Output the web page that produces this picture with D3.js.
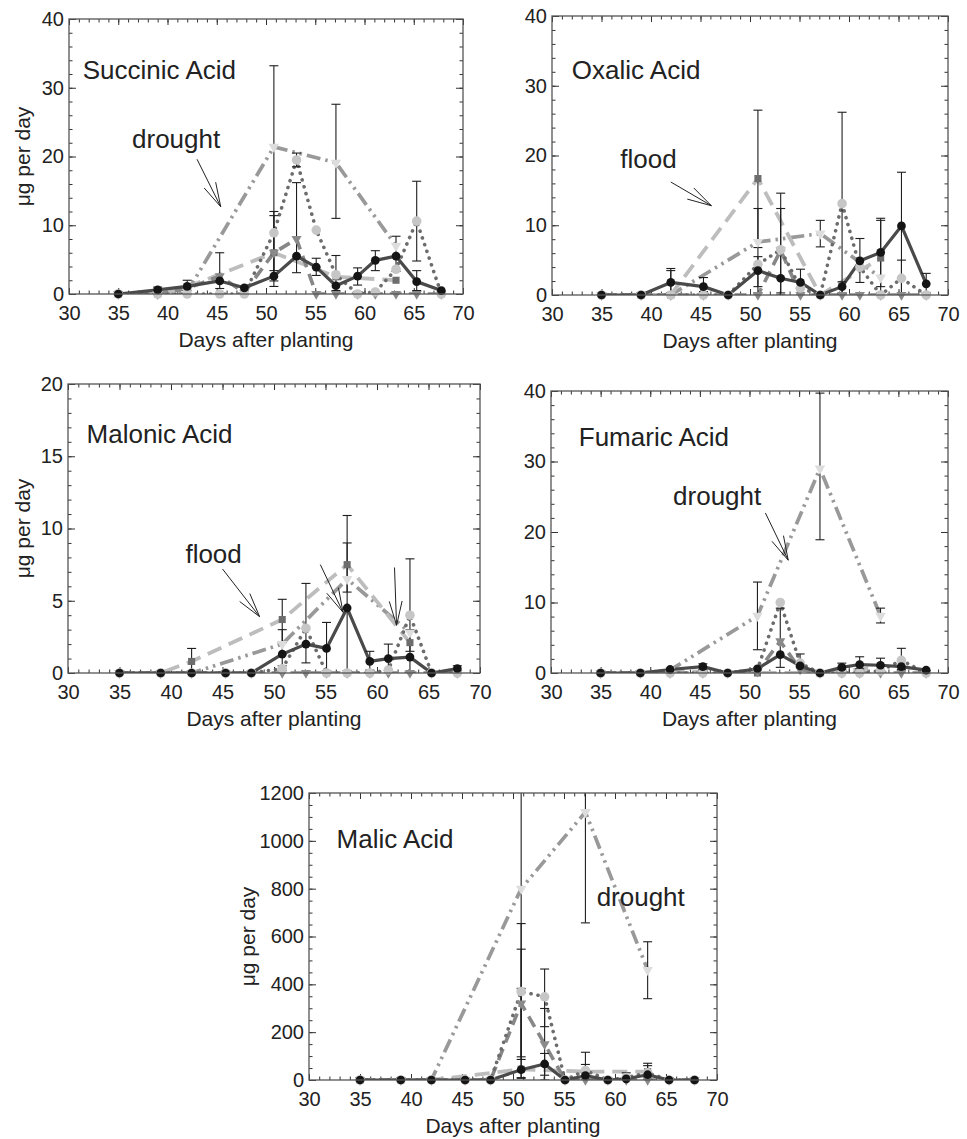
<!DOCTYPE html>
<html>
<head>
<meta charset="utf-8">
<title>Organic acid exudation</title>
<style>
  body { margin: 0; background: #fff; }
  svg { display: block; font-family: "Liberation Sans", Arial, sans-serif; }
</style>
</head>
<body>
<script src="https://cdn.jsdelivr.net/npm/d3@7"></script>
<script>
// sampling days
const days = [35, 39, 42, 45.3, 47.8, 50.8, 53.1, 55.1, 57.1, 59.3, 61.1, 63.2, 65.3, 67.8];
const treatDays = [35, 39, 42, 50.8, 57.1, 63.2];

// Succinic acid
const succinicSolid = [0, 0.6, 1.1, 1.9, 0.9, 2.6, 5.5, 3.9, 1.2, 2.6, 4.9, 5.5, 1.8, 0.5];
const succinicDotted = [0, 0, 0, 0, 0, 8.9, 19.5, 9.3, 2.8, 0, 0.3, 3.6, 10.6, 0];
const succinicMedium = [0, 0, 0.8, 2.6, 0.2, 6.0, 8.0, 0, 0, 0, 0, 0, 0, 0];
const succinicFlood = [0, 0, 1.0, 6.0, 2.5, 2.0];
const succinicDrought = [0, 0, 0.3, 21.4, 19.1, 7.0];
const succinicErr = [[39, 0.3, 1.0], [42, 0.5, 2.0], [45.3, 0.8, 6.0], [50.8, 1.1, 33.2], [50.8, 1.9, 12.0],
  [50.8, 3.4, 11.4], [53.1, 18.5, 20.5], [53.1, 3.1, 16.2], [55.1, 2.7, 5.2], [57.1, 11.0, 27.6],
  [57.1, 0.5, 5.6], [59.3, 1.3, 3.8], [61.1, 3.4, 6.3], [63.2, 3.3, 8.4], [65.3, 4.8, 16.4], [65.3, 0.5, 3.4]];

// Oxalic acid
const oxalicSolid = [0, 0, 1.8, 1.2, 0, 3.5, 2.4, 1.8, 0, 1.2, 4.9, 6.1, 9.9, 1.6];
const oxalicDotted = [0, 0, 0, 0, 0, 4.4, 6.5, 1.0, 0, 13.1, 4.0, 0, 2.4, 0];
const oxalicMedium = [0, 0, 0, 0, 0, 0, 6.4, 0, 0, 0, 0, 0, 0, 0];
const oxalicFlood = [0, 0, 0, 16.7, 0, 5.3];
const oxalicDrought = [0, 0, 0, 7.6, 8.8, 2.5];
const oxalicErr = [[42, 0, 3.8], [42, 0.2, 3.5], [45.3, 0.5, 2.5], [50.8, 6.8, 26.5], [50.8, 1.2, 12.4],
  [50.8, 0.3, 5.5], [53.1, 0, 14.6], [53.1, 0.3, 12.4], [55.1, 0, 3.7], [57.1, 6.9, 10.7],
  [59.3, 0.1, 26.2], [59.3, 0.2, 1.9], [61.1, 1.8, 8.1], [63.2, 1.2, 11.0], [63.2, 0.2, 10.7],
  [65.3, 0, 17.6], [65.3, 0, 5.0], [67.8, 0.2, 3.1]];

// Malonic acid
const malonicSolid = [0, 0, 0, 0, 0, 1.3, 2.0, 1.7, 4.5, 0.8, 1.0, 1.1, 0, 0.3];
const malonicDotted = [0, 0, 0, 0, 0, 0.3, 3.1, 0, 0, 0, 0.2, 4.0, 0, 0];
const malonicMedium = [0, 0, 0, 0, 0, 0, 0, 0, 0, 0, 0, 0, 0, 0];
const malonicFlood = [0, 0, 0.8, 3.7, 7.5, 2.1];
const malonicDrought = [0, 0, 0, 2.0, 6.5, 2.8];
const malonicErr = [[42, 0.1, 1.7], [50.8, 2.1, 5.1], [50.8, 0.5, 3.0], [53.1, 0.7, 6.2], [55.1, 0, 3.5],
  [57.1, 0, 10.9], [57.1, 5.6, 9.0], [59.3, 0.2, 1.5], [61.1, 0, 2.0], [63.2, 0, 7.9],
  [63.2, 1.5, 3.0], [67.8, 0.1, 0.5]];

// Fumaric acid
const fumaricSolid = [0, 0, 0.5, 0.9, 0, 0.6, 2.6, 1.0, 0, 0.8, 1.2, 1.1, 0.9, 0.4];
const fumaricDotted = [0, 0, 0, 0, 0, 0.5, 10.0, 1.4, 0, 0, 0, 0.3, 1.8, 0];
const fumaricMedium = [0, 0, 0, 0, 0, 0.2, 4.5, 0.5, 0, 0, 0, 0, 0, 0];
const fumaricFlood = [0, 0, 0.3, 0, 0, 0.8];
const fumaricDrought = [0, 0, 0.4, 8.1, 29.0, 8.1];
const fumaricErr = [[45.3, 0.5, 1.3], [50.8, 3.3, 12.9], [53.1, 0.8, 9.2], [55.1, 1.2, 2.7],
  [57.1, 18.9, 39.7], [59.3, 0.5, 1.4], [61.1, 0.6, 2.3], [63.2, 7.1, 9.2], [63.2, 0.5, 2.1],
  [65.3, 0.5, 3.5]];

// Malic acid
const malicSolid = [0, 0, 0, 0, 0, 43, 67, 0, 18, 0, 5, 22, 0, 0];
const malicDotted = [0, 0, 0, 0, 0, 370, 348, 0, 40, 0, 10, 30, 0, 0];
const malicMedium = [0, 0, 0, 0, 0, 320, 150, 0, 0, 0, 0, 0, 0, 0];
const malicFlood = [0, 0, 0, 45, 35, 35];
const malicDrought = [0, 0, 0, 800, 1120, 460];
const malicErr = [[50.8, 7, 1600], [50.8, 86, 654], [50.8, 97, 547], [50.8, 10, 383], [53.1, 223, 464],
  [53.1, 0, 299], [53.1, 20, 111], [57.1, 657, 1583], [57.1, 0, 116], [57.1, 30, 65], [61.1, 0, 30],
  [63.2, 340, 578], [63.2, 0, 70], [63.2, 10, 60]];

// annotations, in data units: [text, day, value]
const succinicNotes = [["Succinic Acid", 31.4, 31.3], ["drought", 36.4, 21.2]];
const oxalicNotes = [["Oxalic Acid", 32.0, 31.0], ["flood", 36.9, 18.2]];
const malonicNotes = [["Malonic Acid", 31.8, 15.9], ["flood", 41.4, 7.6]];
const fumaricNotes = [["Fumaric Acid", 32.8, 32.2], ["drought", 42.3, 23.8]];
const malicNotes = [["Malic Acid", 32.7, 970], ["drought", 58.2, 727]];

// arrows: [tail day, tail value, tip day, tip value]
const succinicArrows = [[43.0, 19.6, 45.4, 12.7]];
const oxalicArrows = [[42.0, 16.2, 46.1, 12.8]];
const malonicArrows = [[45.0, 7.2, 48.6, 3.9], [54.5, 7.5, 56.7, 4.2], [61.7, 7.3, 61.9, 3.3]];
const fumaricArrows = [[51.6, 22.7, 53.9, 16.0]];
const malicArrows = [];

const xTicks = d3.range(30, 71, 5);

const panels = [
  { id: "succ", left: 69, right: 463, top: 19, bottom: 294, yMax: 40, major: 10, minor: 2, yTitle: 39,
    solid: succinicSolid, dotted: succinicDotted, medium: succinicMedium, flood: succinicFlood,
    drought: succinicDrought, err: succinicErr, notes: succinicNotes, arrows: succinicArrows },
  { id: "oxal", left: 552, right: 948, top: 16, bottom: 295, yMax: 40, major: 10, minor: 2, yTitle: null,
    solid: oxalicSolid, dotted: oxalicDotted, medium: oxalicMedium, flood: oxalicFlood,
    drought: oxalicDrought, err: oxalicErr, notes: oxalicNotes, arrows: oxalicArrows },
  { id: "malo", left: 68, right: 480, top: 384, bottom: 673, yMax: 20, major: 5, minor: 1, yTitle: 38,
    solid: malonicSolid, dotted: malonicDotted, medium: malonicMedium, flood: malonicFlood,
    drought: malonicDrought, err: malonicErr, notes: malonicNotes, arrows: malonicArrows },
  { id: "fuma", left: 551, right: 948, top: 391, bottom: 673, yMax: 40, major: 10, minor: 2, yTitle: null,
    solid: fumaricSolid, dotted: fumaricDotted, medium: fumaricMedium, flood: fumaricFlood,
    drought: fumaricDrought, err: fumaricErr, notes: fumaricNotes, arrows: fumaricArrows },
  { id: "mali", left: 309, right: 717, top: 793, bottom: 1080, yMax: 1200, major: 200, minor: 50, yTitle: 54,
    solid: malicSolid, dotted: malicDotted, medium: malicMedium, flood: malicFlood,
    drought: malicDrought, err: malicErr, notes: malicNotes, arrows: malicArrows }
];

const styles = [
  { key: "drought", xs: treatDays, stroke: "#999999", width: 3.7, dash: "14 5 2.5 5 2.5 5", cap: "butt",
    symbol: d3.symbolTriangle, flip: true, size: 48, fill: "#dddddd" },
  { key: "flood", xs: treatDays, stroke: "#bdbdbd", width: 3.8, dash: "15 8", cap: "butt",
    symbol: d3.symbolSquare, flip: false, size: 50, fill: "#6d6d6d" },
  { key: "medium", xs: days, stroke: "#878787", width: 3.6, dash: "12 7", cap: "butt",
    symbol: d3.symbolTriangle, flip: true, size: 44, fill: "#8a8a8a" },
  { key: "dotted", xs: days, stroke: "#6c6c6c", width: 3.6, dash: "0.1 7", cap: "round",
    symbol: d3.symbolCircle, flip: false, size: 72, fill: "#c6c6c6" },
  { key: "solid", xs: days, stroke: "#4a4a4a", width: 3.2, dash: null, cap: "round",
    symbol: d3.symbolCircle, flip: false, size: 60, fill: "#151515" }
];

const svg = d3.select("body").append("svg").attr("width", 967).attr("height", 1139);
const defs = svg.append("defs");

const drawPanel = (p) => {
  const x = d3.scaleLinear().domain([30, 70]).range([p.left, p.right]);
  const y = d3.scaleLinear().domain([0, p.yMax]).range([p.bottom, p.top]);
  const g = svg.append("g");

  defs.append("clipPath").attr("id", "clip-" + p.id).append("rect")
    .attr("x", p.left).attr("y", p.top)
    .attr("width", p.right - p.left).attr("height", p.bottom - p.top);

  const minorX = d3.range(30, 71, 1);
  const majorY = d3.range(0, p.yMax + 1e-6, p.major);
  const minorY = d3.range(0, p.yMax + 1e-6, p.minor);

  const ax = g.append("g");
  ax.append("g").attr("transform", `translate(0,${p.bottom})`)
    .call(d3.axisBottom(x).tickValues(minorX).tickSize(-3.5).tickFormat(""));
  ax.append("g").attr("transform", `translate(0,${p.bottom})`)
    .call(d3.axisBottom(x).tickValues(xTicks).tickSize(-6).tickPadding(12).tickFormat(d3.format("d")));
  ax.append("g").attr("transform", `translate(0,${p.top})`)
    .call(d3.axisTop(x).tickValues(minorX).tickSize(-3.5).tickFormat(""));
  ax.append("g").attr("transform", `translate(0,${p.top})`)
    .call(d3.axisTop(x).tickValues(xTicks).tickSize(-6).tickFormat(""));
  ax.append("g").attr("transform", `translate(${p.left},0)`)
    .call(d3.axisLeft(y).tickValues(minorY).tickSize(-3.5).tickFormat(""));
  ax.append("g").attr("transform", `translate(${p.left},0)`)
    .call(d3.axisLeft(y).tickValues(majorY).tickSize(-7).tickPadding(5).tickFormat(d3.format("d")));
  ax.append("g").attr("transform", `translate(${p.right},0)`)
    .call(d3.axisRight(y).tickValues(minorY).tickSize(-3.5).tickFormat(""));
  ax.append("g").attr("transform", `translate(${p.right},0)`)
    .call(d3.axisRight(y).tickValues(majorY).tickSize(-7).tickFormat(""));
  ax.selectAll(".domain").remove();
  ax.selectAll(".tick line").attr("stroke", "#333").attr("stroke-width", 1);
  ax.selectAll(".tick text")
    .attr("fill", "#222")
    .attr("font-size", 20)
    .attr("font-family", "Liberation Sans, Arial, sans-serif");

  // lines
  const line = d3.line().x((d) => x(d[0])).y((d) => y(d[1]));
  const plot = g.append("g").attr("clip-path", `url(#clip-${p.id})`);
  styles.forEach((s) => {
    const pts = s.xs.map((d, i) => [d, p[s.key][i]]).filter((d) => d[1] != null);
    plot.append("path").datum(pts)
      .attr("d", line)
      .attr("fill", "none")
      .attr("stroke", s.stroke)
      .attr("stroke-width", s.width)
      .attr("stroke-dasharray", s.dash)
      .attr("stroke-linecap", s.cap)
      .attr("stroke-linejoin", "round");
  });

  // error bars
  const eb = plot.append("g").attr("stroke", "#1e1e1e").attr("stroke-width", 1.1);
  p.err.forEach((e) => {
    const cx = x(e[0]);
    eb.append("line").attr("x1", cx).attr("x2", cx).attr("y1", y(e[1])).attr("y2", y(e[2]));
    [e[1], e[2]].forEach((v) => {
      eb.append("line").attr("x1", cx - 4.5).attr("x2", cx + 4.5).attr("y1", y(v)).attr("y2", y(v));
    });
  });

  // markers
  styles.forEach((s) => {
    const pts = s.xs.map((d, i) => [d, p[s.key][i]]).filter((d) => d[1] != null);
    g.append("g").selectAll("path").data(pts).enter().append("path")
      .attr("d", d3.symbol().type(s.symbol).size(s.size))
      .attr("transform", (d) => `translate(${x(d[0])},${y(d[1])})` + (s.flip ? " rotate(180)" : ""))
      .attr("fill", s.fill);
  });

  // frame
  g.append("rect")
    .attr("x", p.left).attr("y", p.top)
    .attr("width", p.right - p.left).attr("height", p.bottom - p.top)
    .attr("fill", "none").attr("stroke", "#555").attr("stroke-width", 1.3);

  // axis titles
  g.append("text")
    .attr("x", (p.left + p.right) / 2).attr("y", p.bottom + 53)
    .attr("text-anchor", "middle").attr("font-size", 21).attr("fill", "#222")
    .text("Days after planting");
  if (p.yTitle != null) {
    g.append("text")
      .attr("transform", `translate(${p.left - p.yTitle},${(p.top + p.bottom) / 2}) rotate(-90)`)
      .attr("text-anchor", "middle").attr("font-size", 21).attr("fill", "#222")
      .text("μg per day");
  }

  // notes
  p.notes.forEach((n) => {
    g.append("text").attr("x", x(n[1])).attr("y", y(n[2]))
      .attr("font-size", 26).attr("fill", "#222").text(n[0]);
  });

  // arrows
  p.arrows.forEach((a) => {
    const x1 = x(a[0]), y1 = y(a[1]), x2 = x(a[2]), y2 = y(a[3]);
    const ang = Math.atan2(y1 - y2, x1 - x2);
    const len = 25, spread = 0.26;
    const b1 = [x2 + len * Math.cos(ang - spread), y2 + len * Math.sin(ang - spread)];
    const b2 = [x2 + len * Math.cos(ang + spread), y2 + len * Math.sin(ang + spread)];
    g.append("path")
      .attr("d", `M${x1},${y1}L${x2},${y2}M${b1[0]},${b1[1]}L${x2},${y2}L${b2[0]},${b2[1]}`)
      .attr("fill", "none").attr("stroke", "#222").attr("stroke-width", 1);
  });
};

panels.forEach(drawPanel);
</script>
</body>
</html>
